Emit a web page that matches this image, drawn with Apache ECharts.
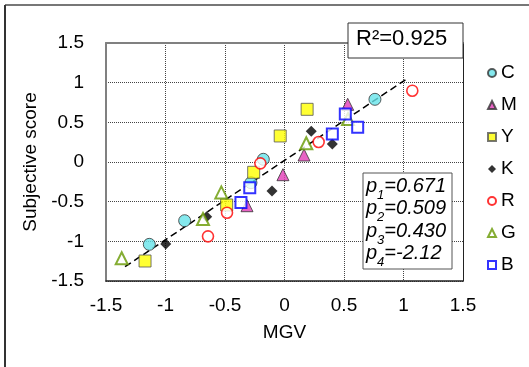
<!DOCTYPE html>
<html><head><meta charset="utf-8">
<script src="https://cdn.jsdelivr.net/npm/echarts@6/dist/echarts.min.js"></script>
<style>html,body{margin:0;padding:0;background:#fff}#c{width:529px;height:367px}</style>
</head><body><div id="c"></div>
<script>
// ---- data ----
const seriesNames = ['C','M','Y','K','R','G','B'];
const cX = [-1.136,-0.839,-0.282,-0.178,0.76];
const cY = [-1.038,-0.740,-0.261,0.034,0.79];
const mX = [-0.315,-0.013,0.164,0.531];
const mY = [-0.551,-0.160,0.088,0.727];
const yX = [-1.172,-0.486,-0.259,-0.036,0.19];
const yY = [-1.248,-0.542,-0.130,0.328,0.664];
const kX = [-0.998,-0.654,-0.105,0.225,0.402];
const kY = [-1.034,-0.689,-0.366,0.387,0.227];
const rX = [-0.643,-0.483,-0.203,0.287,1.074];
const rY = [-0.937,-0.639,-0.017,0.252,0.899];
const gX = [-1.368,-0.685,-0.531,0.183,0.534];
const gY = [-1.214,-0.719,-0.383,0.236,0.542];
const bX = [-0.366,-0.292,0.402,0.511,0.615];
const bY = [-0.509,-0.324,0.353,0.605,0.437];
const fitX = [-1.34, 1.02];
const fitY = [-1.32, 1.04];
const axisMin = -1.5, axisMax = 1.5, axisStep = 0.5;
const r2Text = 'R²=0.925';
const pNames = ['1','2','3','4'];
const pValues = ['0.671','0.509','0.430','-2.12'];

const zip = (xs, ys) => xs.map((x, i) => [x, ys[i]]);
const FONT = 'Liberation Sans, Arial, sans-serif';

const styles = {
  C: {symbol:'circle', size:12, item:{color:'#66E3EA', borderColor:'#333', borderWidth:1}},
  M: {symbol:'triangle', size:12, item:{color:'#E23CB6', borderColor:'#333', borderWidth:1}},
  Y: {symbol:'rect', size:12, item:{color:'#FFFF00', borderColor:'#555', borderWidth:1}},
  K: {symbol:'diamond', size:11, item:{color:'#000', borderColor:'#000', borderWidth:0}},
  R: {symbol:'circle', size:11, item:{color:'#fff', borderColor:'#FF0000', borderWidth:1.6}},
  G: {symbol:'triangle', size:12, item:{color:'#fff', borderColor:'#669900', borderWidth:2}},
  B: {symbol:'rect', size:11, item:{color:'#fff', borderColor:'#0000FF', borderWidth:2}}
};
const dataMap = {C:zip(cX,cY), M:zip(mX,mY), Y:zip(yX,yY), K:zip(kX,kY), R:zip(rX,rY), G:zip(gX,gY), B:zip(bX,bY)};

const series = [{
  type:'line', name:'fit', data: zip(fitX, fitY), symbol:'none', silent:true,
  lineStyle:{color:'#000', width:1.5, type:[7,4]}, z:1
}];
seriesNames.forEach(n => {
  const s = styles[n];
  series.push({type:'scatter', name:n, data:dataMap[n], symbol:s.symbol, symbolSize:s.size, itemStyle:s.item, z:3});
});

const chart = echarts.init(document.getElementById('c'), null, {renderer:'canvas'});
const axisCommon = {min:axisMin, max:axisMax, interval:axisStep, axisTick:{show:false}};
const pRich = {
  p:{fontSize:20, fontStyle:'italic', fontFamily:FONT, color:'#000'},
  s:{fontSize:13, fontStyle:'italic', fontFamily:FONT, color:'#000', verticalAlign:'bottom', padding:[0,0,-4,0]},
  v:{fontSize:20, fontStyle:'italic', fontFamily:FONT, color:'#000'}
};
const pText = pNames.map((n,i) => '{p|p}{s|' + n + '}{v|=' + pValues[i] + '}').join('\n');

chart.setOption({
  animation:false,
  backgroundColor:'#fff',
  textStyle:{fontFamily:FONT},
  grid:{left:106, right:66, top:43, bottom:86},
  legend:{
    orient:'vertical', left:482, top:58, itemWidth:8, itemHeight:8, itemGap:12,
    data: seriesNames, textStyle:{fontSize:19, color:'#000', lineHeight:20, fontFamily:FONT}
  },
  xAxis:[{
    ...axisCommon, type:'value', position:'bottom',
    name:'MGV', nameLocation:'middle', nameGap:42,
    nameTextStyle:{fontSize:19, color:'#000', fontFamily:FONT},
    axisLine:{show:true, onZero:false, lineStyle:{color:'#222', width:1.5}},
    axisLabel:{fontSize:19, color:'#000', margin:15, fontFamily:FONT},
    splitLine:{show:true, lineStyle:{color:'#444', type:[1,1], width:1}}
  },{
    ...axisCommon, type:'value', position:'top',
    axisLine:{show:true, onZero:false, lineStyle:{color:'#808080', width:2}},
    axisLabel:{show:false}, splitLine:{show:false}
  }],
  yAxis:[{
    ...axisCommon, type:'value', position:'left',
    name:'Subjective score', nameLocation:'middle', nameGap:56,
    nameTextStyle:{fontSize:19, color:'#000', fontFamily:FONT},
    axisLine:{show:true, onZero:false, lineStyle:{color:'#808080', width:2}},
    axisLabel:{fontSize:19, color:'#000', margin:22, fontFamily:FONT},
    splitLine:{show:true, lineStyle:{color:'#444', type:[1,1], width:1}}
  },{
    ...axisCommon, type:'value', position:'right',
    axisLine:{show:true, onZero:false, lineStyle:{color:'#222', width:1}},
    axisLabel:{show:false}, splitLine:{show:false}
  }],
  series: series,
  graphic:[
    {type:'line', shape:{x1:5, y1:5, x2:529, y2:5}, style:{stroke:'#777', lineWidth:2}, silent:true},
    {type:'line', shape:{x1:5, y1:5, x2:5, y2:367}, style:{stroke:'#333', lineWidth:2}, silent:true},
    {type:'rect', shape:{x:348, y:23, width:115, height:35}, style:{fill:'#fff', stroke:'#333', lineWidth:1}, z:100},
    {type:'text', left:356, top:28, z:101, style:{text:r2Text, font:'22px ' + FONT, fill:'#000'}},
    {type:'rect', shape:{x:363, y:173, width:89, height:96}, style:{fill:'#fff', stroke:'#555', lineWidth:1}, z:100},
    {type:'text', left:366, top:175, z:101, style:{text:pText, rich:pRich, lineHeight:22.5}}
  ]
});
</script></body></html>
